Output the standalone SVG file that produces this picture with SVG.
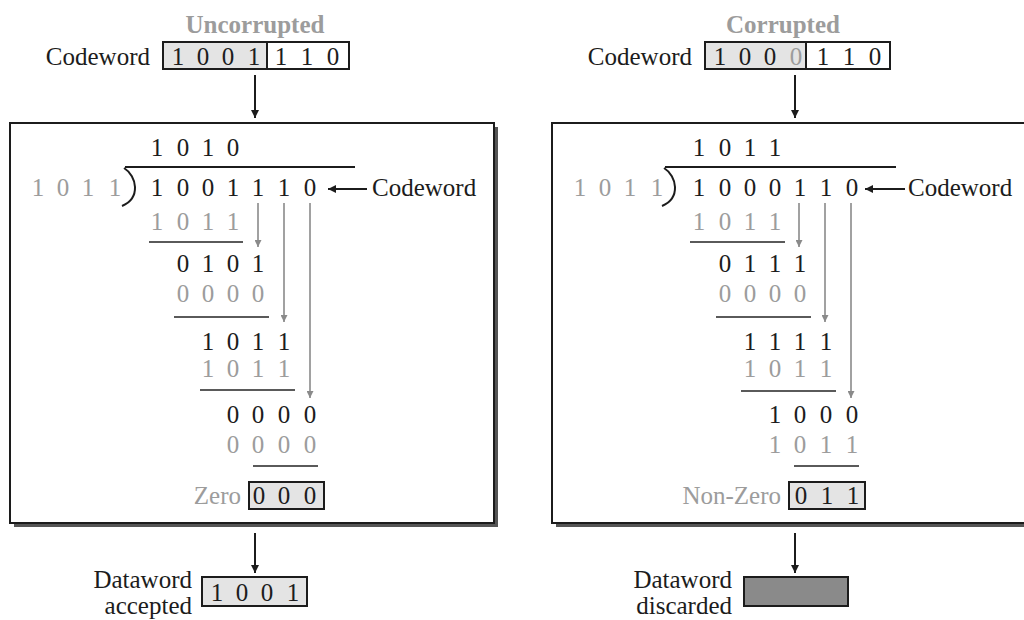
<svg xmlns="http://www.w3.org/2000/svg" width="1024" height="620" viewBox="0 0 1024 620">
<style>
text{font-family:"Liberation Serif","Times New Roman",serif;font-size:25px}
.k{fill:#1c1c1c}
.g{fill:#9c9c9c}
.d{text-anchor:middle}
.h{font-weight:bold;fill:#9c9c9c;text-anchor:middle}
.e{text-anchor:end}
.bx{fill:#e4e4e4;stroke:#1c1c1c;stroke-width:2}
.wb{fill:none;stroke:#1c1c1c;stroke-width:2}
.pan{fill:#fff;stroke:#1c1c1c;stroke-width:2}
.sh{fill:#555}
.ql{stroke:#1c1c1c;stroke-width:2;fill:none}
.sl{stroke:#5a5a5a;stroke-width:2}
.ga{stroke:#8a8a8a;stroke-width:1.6;marker-end:url(#mg)}
.ka{stroke:#1c1c1c;stroke-width:2;marker-end:url(#mk)}
</style>
<defs>
<marker id="mk" viewBox="0 0 10 10" refX="10" refY="5" markerUnits="userSpaceOnUse" markerWidth="12" markerHeight="8" orient="auto"><path d="M0,0 L10,5 L0,10 z" fill="#1c1c1c"/></marker>
<marker id="mg" viewBox="0 0 10 10" refX="10" refY="5" markerUnits="userSpaceOnUse" markerWidth="10" markerHeight="7" orient="auto"><path d="M0,0 L10,5 L0,10 z" fill="#8a8a8a"/></marker>
</defs>
<rect width="1024" height="620" fill="#fff"/>

<!-- LEFT SIDE -->
<g id="codeword-uncorrupted">
<text class="h" x="255" y="33">Uncorrupted</text>
<text class="k e" x="150" y="65">Codeword</text>
<rect class="bx" x="163" y="42" width="104" height="27"/>
<rect class="wb" x="267" y="42" width="82" height="27" fill="#fff"/>
<text class="k d" x="178 190 203 215 228 241 254" y="65">1 0 0 1</text>
<text class="k d" x="281 294 307 320 333" y="65">1 1 0</text>
</g>

<g id="checker-left">
<rect class="sh" x="14" y="127" width="484" height="400"/>
<rect class="pan" x="10" y="123" width="484" height="400"/>
<text class="k d" x="157 170 183 195 208 220 233" y="156">1 0 1 0</text>
<path class="ql" d="M125,167 H355"/>
<path class="ql" d="M124,168 C137,176 141,198 122,206"/>
<text class="g d" x="38 50 63 75 88 101 115" y="196">1 0 1 1</text>
<text class="k d" x="157 170 183 195 208 220 233 245 258 271 284 297 310" y="196">1 0 0 1 1 1 0</text>
<text class="k" x="372" y="196">Codeword</text>
<text class="g d" x="157 170 183 195 208 220 233" y="230">1 0 1 1</text>
<line class="sl" x1="149" y1="242" x2="243" y2="242"/>
<text class="k d" x="183 195 208 220 233 245 258" y="272">0 1 0 1</text>
<text class="g d" x="183 195 208 220 233 245 258" y="302">0 0 0 0</text>
<line class="sl" x1="174" y1="317" x2="269" y2="317"/>
<text class="k d" x="208 220 233 245 258 271 284" y="350">1 0 1 1</text>
<text class="g d" x="208 220 233 245 258 271 284" y="377">1 0 1 1</text>
<line class="sl" x1="200" y1="390" x2="295" y2="390"/>
<text class="k d" x="233 245 258 271 284 297 310" y="423">0 0 0 0</text>
<text class="g d" x="233 245 258 271 284 297 310" y="453">0 0 0 0</text>
<line class="sl" x1="253" y1="466" x2="318" y2="466"/>
<text class="g e" x="241" y="504">Zero</text>
<rect class="bx" x="249" y="482" width="75" height="27"/>
<text class="k d" x="259 271 284 297 310" y="504">0 0 0</text>
</g>

<g id="dataword-accepted">
<text class="k e" x="192" y="588">Dataword</text>
<text class="k e" x="192" y="614">accepted</text>
<rect class="bx" x="202" y="577" width="105" height="29"/>
<text class="k d" x="217 229 242 254 267 280 293" y="601">1 0 0 1</text>
</g>

<!-- RIGHT SIDE -->
<g id="codeword-corrupted">
<text class="h" x="783" y="33">Corrupted</text>
<text class="k e" x="692" y="65">Codeword</text>
<rect class="bx" x="705" y="42" width="101" height="27"/>
<rect class="wb" x="806" y="42" width="84" height="27" fill="#fff"/>
<text class="k d" x="720 732 745 757 770" y="65">1 0 0</text>
<text class="g d" x="796" y="65">0</text>
<text class="k d" x="823 836 849 862 875" y="65">1 1 0</text>
</g>

<g id="checker-right">
<rect class="sh" x="556" y="127" width="500" height="400"/>
<rect class="pan" x="552" y="123" width="500" height="400"/>
<text class="k d" x="699 712 725 737 750 762 775" y="156">1 0 1 1</text>
<path class="ql" d="M665,167 H896"/>
<path class="ql" d="M664,168 C677,176 681,198 662,206"/>
<text class="g d" x="580 592 605 617 630 643 657" y="196">1 0 1 1</text>
<text class="k d" x="699 712 725 737 750 762 775 787 800 813 826 839 852" y="196">1 0 0 0 1 1 0</text>
<text class="k" x="908" y="196">Codeword</text>
<text class="g d" x="699 712 725 737 750 762 775" y="230">1 0 1 1</text>
<line class="sl" x1="690" y1="242" x2="785" y2="242"/>
<text class="k d" x="725 737 750 762 775 787 800" y="272">0 1 1 1</text>
<text class="g d" x="725 737 750 762 775 787 800" y="302">0 0 0 0</text>
<line class="sl" x1="716" y1="317" x2="811" y2="317"/>
<text class="k d" x="750 762 775 787 800 813 826" y="350">1 1 1 1</text>
<text class="g d" x="750 762 775 787 800 813 826" y="377">1 0 1 1</text>
<line class="sl" x1="741" y1="391" x2="836" y2="391"/>
<text class="k d" x="775 787 800 813 826 839 852" y="423">1 0 0 0</text>
<text class="g d" x="775 787 800 813 826 839 852" y="453">1 0 1 1</text>
<line class="sl" x1="794" y1="466" x2="859" y2="466"/>
<text class="g e" x="781" y="504">Non-Zero</text>
<rect class="bx" x="789" y="482" width="76" height="27"/>
<text class="k d" x="801 814 827 840 853" y="504">0 1 1</text>
</g>

<g id="dataword-discarded">
<text class="k e" x="732" y="588">Dataword</text>
<text class="k e" x="732" y="614">discarded</text>
<rect x="744" y="577" width="104" height="29" fill="#8a8a8a" stroke="#1c1c1c" stroke-width="2"/>
</g>

<g id="connectors">
<line class="ka" x1="255" y1="75" x2="255" y2="118"/>
<line class="ka" x1="255" y1="533" x2="255" y2="573"/>
<line class="ka" x1="367" y1="189" x2="328" y2="189"/>
<line class="ga" x1="258" y1="203" x2="258" y2="247"/>
<line class="ga" x1="284" y1="203" x2="284" y2="322"/>
<line class="ga" x1="310" y1="203" x2="310" y2="398"/>
<line class="ka" x1="795" y1="75" x2="795" y2="118"/>
<line class="ka" x1="795" y1="533" x2="795" y2="573"/>
<line class="ka" x1="905" y1="189" x2="865" y2="189"/>
<line class="ga" x1="799" y1="203" x2="799" y2="247"/>
<line class="ga" x1="825" y1="203" x2="825" y2="322"/>
<line class="ga" x1="851" y1="203" x2="851" y2="398"/>
</g>
</svg>
